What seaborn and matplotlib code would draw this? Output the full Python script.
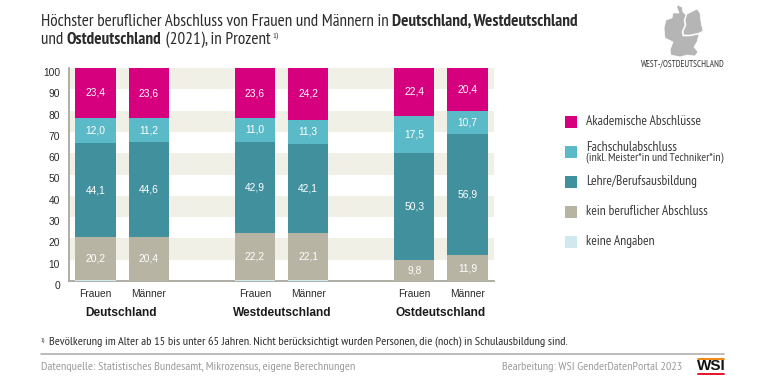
import pandas as pd
import matplotlib.pyplot as plt
from matplotlib.patches import Polygon, Rectangle
from matplotlib.transforms import ScaledTranslation
import seaborn as sns

# bar slots, the gaps keep the three regions apart
slots = ["D_F", "D_M", "gap1", "W_F", "W_M", "gap2", "O_F", "O_M"]
barNames = ["D_F", "D_M", "W_F", "W_M", "O_F", "O_M"]
genderLabels = ["Frauen", "Männer", "Frauen", "Männer", "Frauen", "Männer"]
regions = ["Deutschland", "Westdeutschland", "Ostdeutschland"]
yTicks = [0, 10, 20, 30, 40, 50, 60, 70, 80, 90, 100]

# values, stacked bottom to top
keineAngaben = [0.3, 0.2, 0.3, 0.3, 0.0, 0.1]
keinAbschluss = [20.2, 20.4, 22.2, 22.1, 9.8, 11.9]
lehre = [44.1, 44.6, 42.9, 42.1, 50.3, 56.9]
fachschule = [12.0, 11.2, 11.0, 11.3, 17.5, 10.7]
akademisch = [23.4, 23.6, 23.6, 24.2, 22.4, 20.4]

colPink = "#D6007F"
colCyan = "#5BBAC8"
colTeal = "#41909E"
colTaupe = "#B7B4A4"
colLight = "#D0E8EF"
colBand = "#F1F0E6"
colText = "#2B2B2B"
colGrey = "#9B9B9B"

sns.set_theme(style="white")
plt.rcParams['font.family'] = ['PT Sans Narrow', 'Liberation Sans', 'DejaVu Sans']
sansFont = ['Liberation Sans', 'DejaVu Sans']


def writeRuns(canvas, x, y, runs, size):
    # text with mixed weights, one piece after the other
    renderer = canvas.figure.canvas.get_renderer()
    for content, weight in runs:
        t = canvas.text(x, y, content, fontsize=size, fontweight=weight,
                        color=colText, va="center", ha="left")
        box = t.get_window_extent(renderer)
        x += box.width
    return x


def main():
    fig = plt.figure(figsize=(7.67, 3.81), dpi=100)

    # overlay in pixel coordinates for everything around the chart
    canvas = fig.add_axes([0, 0, 1, 1])
    canvas.set_xlim(0, 767)
    canvas.set_ylim(381, 0)
    canvas.axis("off")

    ax = fig.add_axes([69 / 767, 1 - 281 / 381, 425 / 767, 213 / 381])
    ax.patch.set_alpha(0)

    series = [
        (keineAngaben, colLight, False),
        (keinAbschluss, colTaupe, True),
        (lehre, colTeal, True),
        (fachschule, colCyan, True),
        (akademisch, colPink, True),
    ]

    bottom = pd.Series([0.0] * len(barNames))
    for values, color, showLabel in series:
        df = pd.DataFrame({"bar": barNames, "share": values})
        sns.barplot(data=df, x="bar", y="share", order=slots, color=color,
                    saturation=1, width=0.76, errorbar=None,
                    bottom=bottom.values, linewidth=0, ax=ax, zorder=3)
        if showLabel:
            labels = [f"{v:.1f}".replace(".", ",") for v in values]
            ax.bar_label(ax.containers[-1], labels=labels, label_type="center",
                         color="white", fontsize=7.4, family=sansFont, zorder=4)
        bottom = bottom + pd.Series(values)

    # alternating bands behind the bars
    for lo in yTicks[1:-1:2]:
        ax.axhspan(lo, lo + 10, color=colBand, linewidth=0, zorder=1)

    ax.set_xlim(-0.5, len(slots) - 0.5)
    ax.set_ylim(0, 100)
    ax.set_yticks(yTicks)
    ax.set_xticks([slots.index(b) for b in barNames])
    ax.set_xticklabels(genderLabels, fontsize=7.4, family=sansFont, color=colText)
    ax.set_xlabel("")
    ax.set_ylabel("")
    ax.tick_params(axis="both", length=0)
    ax.tick_params(axis="x", pad=5.5)
    ax.tick_params(axis="y", pad=6.5)
    for label in ax.get_yticklabels():
        label.set_fontsize(7.4)
        label.set_family(sansFont)
        label.set_color(colText)
        label.set_transform(label.get_transform() + ScaledTranslation(0, -4 / 100, fig.dpi_scale_trans))
    sns.despine(ax=ax)
    for side in ["left", "bottom"]:
        ax.spines[side].set_color("#A8A8A0")
        ax.spines[side].set_linewidth(1.3)

    # region names under each pair of bars
    for region, x in zip(regions, [121.5, 282, 441]):
        canvas.text(x, 312.5, region, fontsize=8.6, fontweight="bold", family=sansFont,
                    color="#1A1A1A", ha="center", va="center")

    # title
    fig.canvas.draw()
    writeRuns(canvas, 41, 22, [("Höchster beruflicher Abschluss von Frauen und Männern in\u00a0", "normal"),
                               ("Deutschland, Westdeutschland", "bold")], 12.3)
    endX = writeRuns(canvas, 41, 40, [("und\u00a0", "normal"), ("Ostdeutschland", "bold"),
                                      ("\u00a0(2021), in Prozent", "normal")], 12.3)
    canvas.text(endX + 2, 36.5, "1)", fontsize=6, color=colText, ha="left", va="center")

    # legend
    legendRows = [
        (121.5, colPink, "Akademische Abschlüsse"),
        (151.7, colCyan, "Fachschulabschluss"),
        (181.7, colTeal, "Lehre/Berufsausbildung"),
        (211.7, colTaupe, "kein beruflicher Abschluss"),
        (241.7, colLight, "keine Angaben"),
    ]
    for y, color, label in legendRows:
        canvas.add_patch(Rectangle((564.5, y - 6), 12, 12, facecolor=color, linewidth=0))
        yText = 147.5 if label.startswith("Fach") else y
        canvas.text(586, yText, label, fontsize=9.7, color="#3A3A3A", ha="left", va="center")
    canvas.text(586, 158, "(inkl. Meister*in und Techniker*in)", fontsize=8.5,
                color="#3A3A3A", ha="left", va="center")

    # map icon
    west = [(677, 5), (682, 7), (683, 12), (686, 15), (684, 20), (685, 25), (682, 32), (683, 36),
            (690, 36), (699, 34), (697, 42), (694, 47), (698, 52), (695, 56), (687, 55),
            (680, 57), (671, 55), (670, 50), (673, 42), (665, 38), (664, 28), (666, 20),
            (672, 18), (673, 13), (679, 13), (677, 8)]
    east = [(687, 14), (697, 9), (700, 13), (701, 22), (703, 31), (699, 33), (690, 35),
            (684, 35), (683, 32), (686, 25), (685, 20)]
    for shape in [west, east]:
        canvas.add_patch(Polygon(shape, closed=True, facecolor="#B5B5B5",
                                 edgecolor="white", linewidth=0.5))
    canvas.text(682.5, 64.5, "WEST-/OSTDEUTSCHLAND", fontsize=6.5, color="#333333",
                ha="center", va="center")

    # footer
    canvas.text(41, 340, "1)", fontsize=4.5, color=colText, ha="left", va="center")
    canvas.text(49, 342, "Bevölkerung im Alter ab 15 bis unter 65 Jahren. Nicht berücksichtigt wurden "
                "Personen, die (noch) in Schulausbildung sind.", fontsize=8.8, color=colText,
                ha="left", va="center")
    canvas.plot([41, 724], [353.5, 353.5], color="#B0B0B0", linewidth=1.2)
    canvas.text(41, 367.5, "Datenquelle: Statistisches Bundesamt, Mikrozensus, eigene Berechnungen",
                fontsize=8.85, color=colGrey, ha="left", va="center")
    canvas.text(682, 367.5, "Bearbeitung: WSI GenderDatenPortal 2023", fontsize=8.75,
                color=colGrey, ha="right", va="center")

    # WSI mark
    canvas.plot([698, 724], [358.5, 358.5], color="#EE7F00", linewidth=1.3)
    canvas.plot([698, 724], [374, 374], color="#E2001A", linewidth=1.3)
    canvas.text(711, 366.3, "WSI", fontsize=11, fontweight="bold", family=sansFont,
                color="#111111", ha="center", va="center")

    fig.savefig("out.png", dpi=100)
    plt.close(fig)


if __name__ == "__main__":
    main()
